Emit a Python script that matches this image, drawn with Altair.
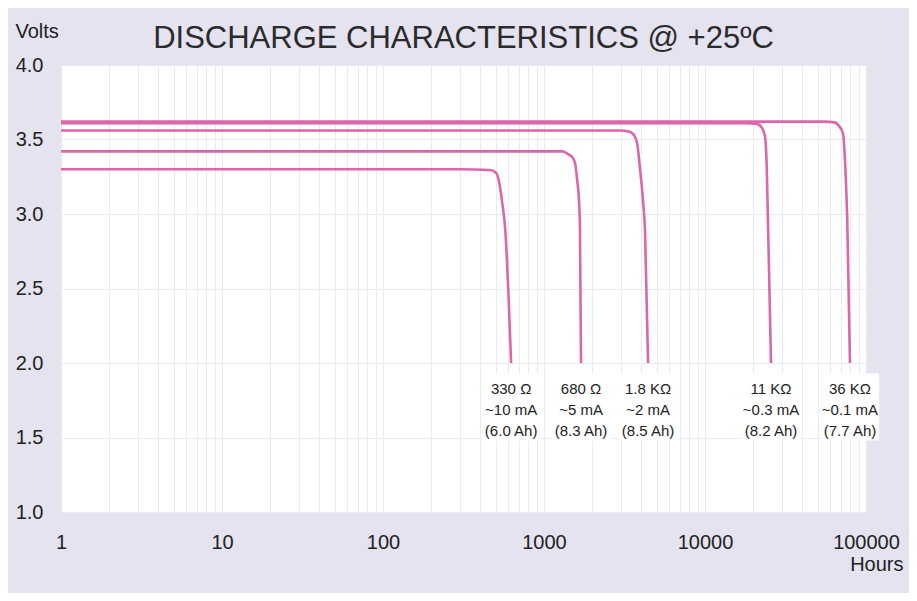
import altair as alt
import pandas as pd

# ---- data ----
series_names = ["330 Ω", "680 Ω", "1.8 KΩ", "11 KΩ", "36 KΩ"]

hours_330 = [1, 300, 460, 500, 525, 548, 575, 600, 625]
volts_330 = [3.30, 3.30, 3.295, 3.28, 3.22, 3.09, 2.89, 2.49, 2.0]

hours_680 = [1, 1300, 1420, 1500, 1560, 1610, 1650, 1673, 1698]
volts_680 = [3.42, 3.42, 3.40, 3.38, 3.34, 3.22, 3.09, 2.89, 2.0]

hours_1k8 = [1, 3000, 3320, 3550, 3780, 3950, 4120, 4240, 4430]
volts_1k8 = [3.56, 3.56, 3.555, 3.54, 3.48, 3.30, 3.09, 2.89, 2.0]

hours_11k = [1, 18000, 21000, 22500, 23600, 24200, 24600, 25700]
volts_11k = [3.61, 3.61, 3.605, 3.58, 3.52, 3.30, 2.96, 2.0]

hours_36k = [1, 55000, 64000, 68000, 72000, 74500, 76500, 79500]
volts_36k = [3.62, 3.62, 3.615, 3.59, 3.54, 3.30, 2.96, 2.0]

label_current = ["~10 mA", "~5 mA", "~2 mA", "~0.3 mA", "~0.1 mA"]
label_capacity = ["(6.0 Ah)", "(8.3 Ah)", "(8.5 Ah)", "(8.2 Ah)", "(7.7 Ah)"]

x_tick_labels = [1, 10, 100, 1000, 10000, 100000]
y_tick_values = [1.0, 1.5, 2.0, 2.5, 3.0, 3.5, 4.0]

# ---- build tables ----
all_hours = [hours_330, hours_680, hours_1k8, hours_11k, hours_36k]
all_volts = [volts_330, volts_680, volts_1k8, volts_11k, volts_36k]

rows = []
for name, hs, vs in zip(series_names, all_hours, all_volts):
    for h, v in zip(hs, vs):
        rows.append({"series": name, "hours": h, "volts": v})
curves = pd.DataFrame(rows)

LABEL_TOP = 1.875
BOX_TOP, BOX_BOTTOM = 1.93, 1.48
BOX_FACTOR = 1.52

labels = pd.DataFrame({
    "series": series_names,
    "hours": [hs[-1] for hs in all_hours],
    "text": [f"{n}\n{c}\n{a}" for n, c, a in zip(series_names, label_current, label_capacity)],
})
labels["volts"] = LABEL_TOP
labels["hours_lo"] = labels["hours"] / BOX_FACTOR
labels["hours_hi"] = labels["hours"] * BOX_FACTOR
labels["box_top"] = BOX_TOP
labels["box_bottom"] = BOX_BOTTOM

grid_vals = [m * 10 ** k for k in range(5) for m in range(1, 10)] + [100000]

FONT = "Liberation Sans"
GRID = "#eaeaf2"
PINK = "#dc67a8"

x_scale = alt.Scale(type="log", domain=[1, 100000], nice=False)
y_scale = alt.Scale(domain=[1.0, 4.0], nice=False, zero=False)

label_expr = "indexof([" + ",".join(str(v) for v in x_tick_labels) + "], datum.value) >= 0 ? datum.label : ''"

x_axis = alt.Axis(
    values=grid_vals, labelExpr=label_expr, format="d",
    labelOverlap=False, labelFlush=False, grid=True, gridColor=GRID,
    ticks=False, domain=False, labelFontSize=20, labelFont=FONT,
    labelColor="#222222", labelPadding=20,
    title="Hours", titleFont=FONT, titleFontSize=20, titleFontWeight="normal",
    titleColor="#222222", titleAnchor="end", titleAlign="right",
    titleX=842, titleY=58, titleBaseline="alphabetic",
)
y_axis = alt.Axis(
    values=y_tick_values, format=".1f", grid=True, gridColor=GRID,
    ticks=False, domain=False, labelFontSize=20, labelFont=FONT,
    labelColor="#222222", labelPadding=18,
    title="Volts", titleFont=FONT, titleFontSize=20, titleFontWeight="normal",
    titleColor="#222222", titleAngle=0, titleAlign="left",
    titleX=-46, titleY=-28, titleBaseline="alphabetic",
)

lines = alt.Chart(curves).mark_line(
    color=PINK, strokeWidth=2.6, interpolate="monotone"
).encode(
    x=alt.X("hours:Q", scale=x_scale, axis=x_axis),
    y=alt.Y("volts:Q", scale=y_scale, axis=y_axis),
    detail="series:N",
)

boxes = alt.Chart(labels).mark_rect(color="white").encode(
    x=alt.X("hours_lo:Q", scale=x_scale, axis=x_axis),
    x2="hours_hi:Q",
    y=alt.Y("box_top:Q", scale=y_scale, axis=y_axis),
    y2="box_bottom:Q",
)

texts = alt.Chart(labels).mark_text(
    lineBreak="\n", baseline="top", align="center", font=FONT,
    fontSize=15, lineHeight=21, color="#222222"
).encode(
    x=alt.X("hours:Q", scale=x_scale, axis=x_axis),
    y=alt.Y("volts:Q", scale=y_scale, axis=y_axis),
    text="text:N",
)

chart = alt.layer(lines, boxes, texts).properties(
    width=805, height=447,
    autosize=alt.AutoSizeParams(type="none"),
    padding={"left": 53, "top": 57, "right": 43, "bottom": 81},
    background="#e4e3ef",
    title=alt.TitleParams(
        "DISCHARGE CHARACTERISTICS @ +25ºC", font=FONT, fontSize=31,
        fontWeight="normal", color="#2b2b2b", anchor="middle",
        frame="group", baseline="alphabetic", offset=17, dy=75,
    ),
).configure_view(fill="white", stroke="transparent")

chart.save("out.html", embed_options={"renderer": "svg", "actions": False})
